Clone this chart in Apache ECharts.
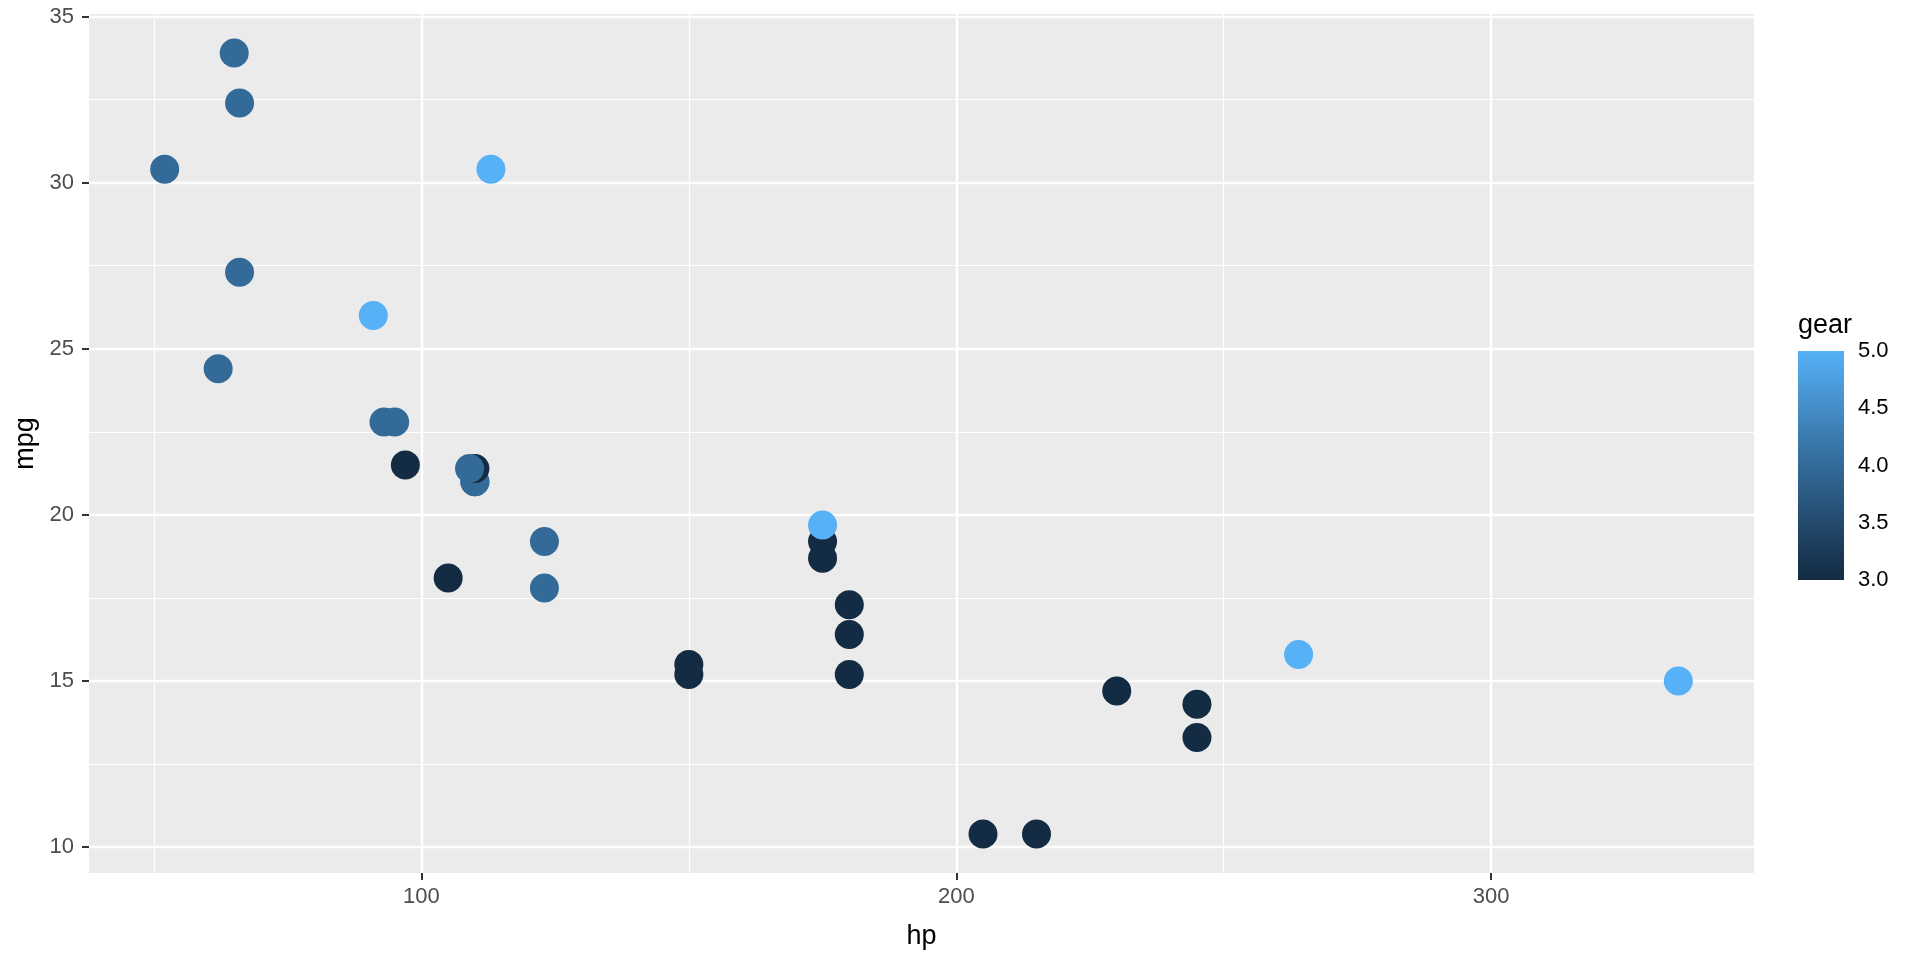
<!DOCTYPE html>
<html><head><meta charset="utf-8">
<script src="https://cdn.jsdelivr.net/npm/echarts@6/dist/echarts.min.js"></script>
<style>html,body{margin:0;padding:0;background:#fff}#c{width:1920px;height:960px}</style>
</head><body><div id="c"></div>
<script>
// mtcars: hp, mpg, gear (data order kept for draw order)
const hp   = [110,110,93,110,175,105,245,62,95,123,123,180,180,180,205,215,230,66,52,65,97,150,150,245,175,66,91,113,264,175,335,109];
const mpg  = [21.0,21.0,22.8,21.4,18.7,18.1,14.3,24.4,22.8,19.2,17.8,16.4,17.3,15.2,10.4,10.4,14.7,32.4,30.4,33.9,21.5,15.5,15.2,13.3,19.2,27.3,26.0,30.4,15.8,19.7,15.0,21.4];
const gear = [4,4,4,3,3,3,3,4,4,4,4,3,3,3,3,3,3,4,4,4,3,3,3,3,3,4,5,5,5,5,5,4];

const xMajor = [100,200,300];
const xMinor = [50,150,250];
const yMajor = [10,15,20,25,30,35];
const yMinor = [12.5,17.5,22.5,27.5,32.5];
const gearTicks = [3,3.5,4,4.5,5];
const gearInner = [3.5,4,4.5];
const palette = ['#132B43','#234A6D','#336A98','#448DC7','#56B1F7'];

const FONT = "'Liberation Sans', Arial, sans-serif";
const points = hp.map((h,i)=>[h, mpg[i], gear[i]]);

const gridLines = [].concat(
  xMinor.map(v=>({xAxis:v, lineStyle:{width:1.2}})),
  yMinor.map(v=>({yAxis:v, lineStyle:{width:1.2}})),
  xMajor.map(v=>({xAxis:v, lineStyle:{width:2.4}})),
  yMajor.map(v=>({yAxis:v, lineStyle:{width:2.4}}))
);

const chart = echarts.init(document.getElementById('c'), null, {renderer:'canvas'});
chart.setOption({
  animation:false,
  backgroundColor:'#ffffff',
  textStyle:{fontFamily:FONT},
  grid:[
    {left:89, right:166, top:14, bottom:87, show:true, backgroundColor:'#EBEBEB', borderWidth:0, containLabel:false},
    {left:1798, width:46, top:351, height:229, show:false, containLabel:false}
  ],
  xAxis:[
    {type:'value', gridIndex:0, min:37.85, max:349.15,
     name:'hp', nameLocation:'middle', nameGap:50,
     nameTextStyle:{fontSize:27, color:'#000', fontFamily:FONT},
     axisLine:{show:false},
     axisTick:{show:true, customValues:xMajor, length:7, lineStyle:{color:'#333333', width:2}},
     axisLabel:{customValues:xMajor, fontSize:22, color:'#4D4D4D', margin:13, fontFamily:FONT},
     splitLine:{show:false}},
    {type:'category', gridIndex:1, data:['gear'], show:false}
  ],
  yAxis:[
    {type:'value', gridIndex:0, min:9.225, max:35.075,
     name:'mpg', nameLocation:'middle', nameGap:32, nameRotate:90,
     nameTextStyle:{fontSize:27, color:'#000', fontFamily:FONT},
     axisLine:{show:false},
     axisTick:{show:true, customValues:yMajor, length:7, lineStyle:{color:'#333333', width:2}},
     axisLabel:{customValues:yMajor, fontSize:22, color:'#4D4D4D', margin:15, fontFamily:FONT},
     splitLine:{show:false}},
    {type:'value', gridIndex:1, position:'right', min:3, max:5,
     axisLine:{show:false},
     axisTick:{show:true, inside:true, customValues:gearInner, length:9, lineStyle:{color:'#ffffff', width:1.3}},
     axisLabel:{customValues:gearTicks, fontSize:22, color:'#000', margin:14, fontFamily:FONT,
                formatter:v=>Number(v).toFixed(1)},
     splitLine:{show:false}},
    {type:'value', gridIndex:1, position:'left', min:3, max:5,
     name:'gear', nameLocation:'end', nameGap:12,
     nameTextStyle:{fontSize:27, color:'#000', align:'left', verticalAlign:'bottom', fontFamily:FONT},
     axisLine:{show:false},
     axisTick:{show:true, inside:true, customValues:gearInner, length:9, lineStyle:{color:'#ffffff', width:1.3}},
     axisLabel:{show:false},
     splitLine:{show:false}}
  ],
  visualMap:{
    type:'continuous', show:false, min:3, max:5, dimension:2, seriesIndex:1,
    inRange:{color:palette}
  },
  series:[
    {type:'scatter', xAxisIndex:0, yAxisIndex:0, data:[], z:1, silent:true,
     markLine:{silent:true, z:1, symbol:['none','none'], label:{show:false},
               lineStyle:{color:'#ffffff', type:'solid'}, data:gridLines, animation:false}},
    {type:'scatter', xAxisIndex:0, yAxisIndex:0, data:points, symbolSize:29, z:10,
     itemStyle:{opacity:1, borderWidth:0}},
    {type:'bar', xAxisIndex:1, yAxisIndex:1, stack:'cb', barWidth:'100%', data:[gearTicks[0]],
     itemStyle:{color:'rgba(0,0,0,0)'}, silent:true},
    {type:'bar', xAxisIndex:1, yAxisIndex:1, stack:'cb', barWidth:'100%',
     data:[gearTicks[gearTicks.length-1]-gearTicks[0]], silent:true,
     itemStyle:{color:{type:'linear', x:0, y:1, x2:0, y2:0,
       colorStops:palette.map((c,i)=>({offset:i/(palette.length-1), color:c}))}}}
  ]
});
</script>
</body></html>
